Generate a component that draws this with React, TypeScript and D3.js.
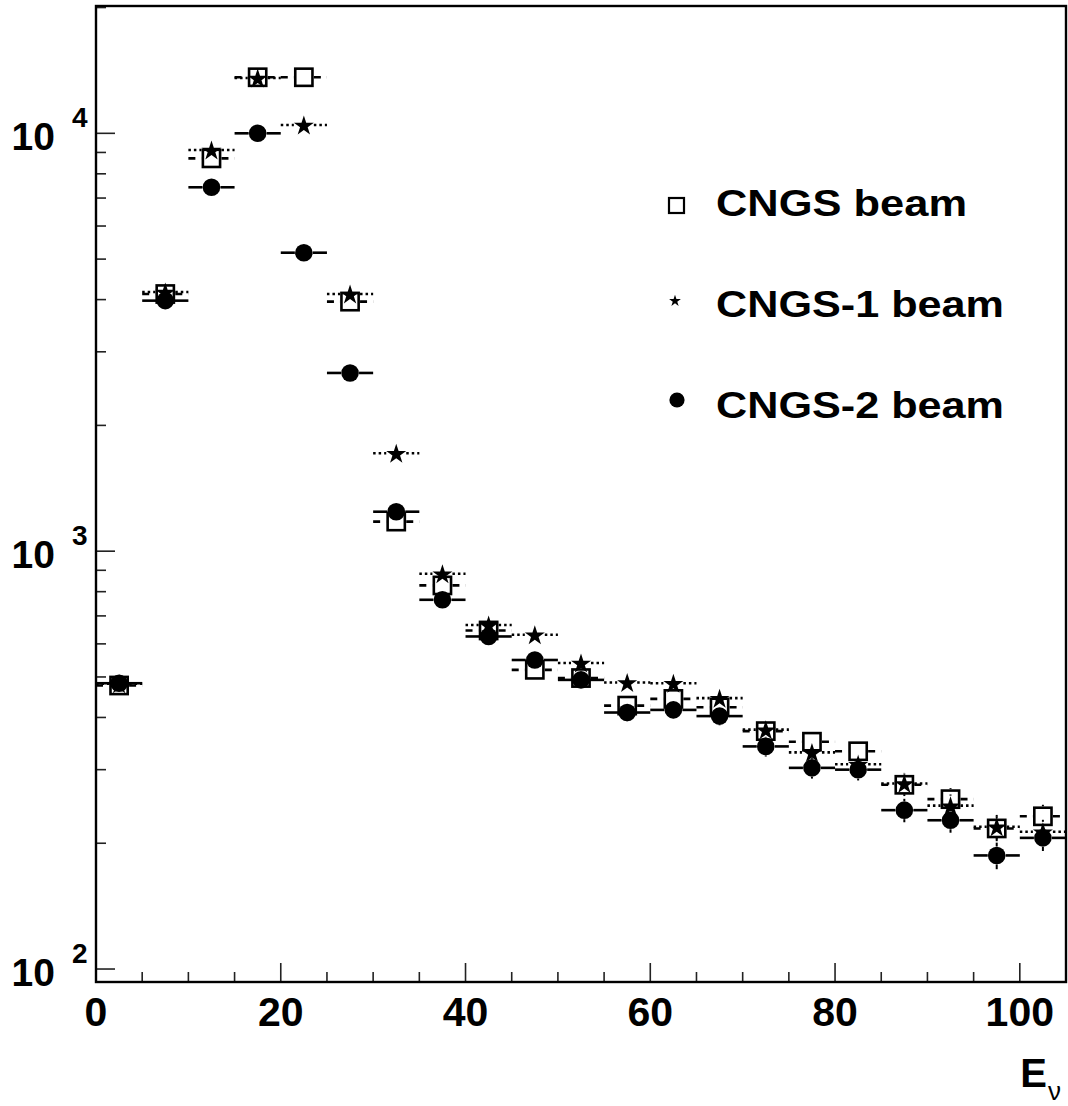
import React from "react";
import * as d3 from "d3";

// Bin edges (GeV): 21 bins of width 5 from 0 to 105
const binLow = [0, 5, 10, 15, 20, 25, 30, 35, 40, 45, 50, 55, 60, 65, 70, 75, 80, 85, 90, 95, 100];
const binWidth = 5;

// Event counts
const cngs = [477, 4125, 8710, 13620, 13620, 3955, 1177, 828, 646, 520, 497, 427, 443, 423, 371, 350, 332, 276, 255, 217, 232];
const cngs1 = [482, 4172, 9120, 13560, 10470, 4125, 1716, 883, 666, 631, 540, 485, 483, 445, 374, 330, 309, 278, 246, 219, 213];
const cngs2 = [483, 3977, 7428, 10000, 5180, 2670, 1243, 765, 625, 549, 492, 411, 417, 403, 341, 303, 300, 240, 227, 187, 206];

const xTickMajor = [0, 20, 40, 60, 80, 100];
const xTickMinor = [5, 10, 15, 25, 30, 35, 45, 50, 55, 65, 70, 75, 85, 90, 95];
const yPowers = [2, 3, 4];
const legendLabels = ["CNGS beam", "CNGS-1 beam", "CNGS-2 beam"];

const W = 1068;
const H = 1106;
const L = 96, R = 1066, T = 6, B = 982;
const FONT = "'Liberation Sans', Arial, Helvetica, sans-serif";

const x = d3.scaleLinear().domain([0, 105]).range([L, R]);
const y = d3.scaleLog().domain([93.1, 20170]).range([B, T]);

type Kind = "square" | "star" | "circle";

const starPath = (r: number) => d3.symbol().type(d3.symbolStar).size((r * r) / 0.8908130915292852)() as string;

function Marker({ kind, cx, cy, s }: { kind: Kind; cx: number; cy: number; s: number }) {
  if (kind === "square") {
    return <rect x={cx - s} y={cy - s} width={2 * s} height={2 * s} fill="none" stroke="#000" strokeWidth={2.6} />;
  }
  if (kind === "star") {
    return <path d={starPath(s)} transform={`translate(${cx},${cy + s * 0.1})`} fill="#000" />;
  }
  return <circle cx={cx} cy={cy} r={s} fill="#000" />;
}

const seriesDefs: { data: number[]; kind: Kind; dash: string | undefined; half: number; size: number; lw: number }[] = [
  { data: cngs, kind: "square", dash: "7,6", half: 10, size: 8.6, lw: 2.6 },
  { data: cngs1, kind: "star", dash: "2.5,3", half: 10, size: 10.5, lw: 2.6 },
  { data: cngs2, kind: "circle", dash: undefined, half: 9, size: 8.8, lw: 2.6 },
];

export default function App() {
  const ySubTicks: number[] = [];
  for (let p = 1; p <= 4; p++) {
    for (let m = 2; m <= 9; m++) {
      const v = m * Math.pow(10, p);
      if (v > 93.1 && v < 20170) ySubTicks.push(v);
    }
  }
  return (
    <svg width={W} height={H} style={{ position: "absolute", left: 0, top: 0, background: "#fff" }} xmlns="http://www.w3.org/2000/svg">
      <rect x={0} y={0} width={W} height={H} fill="#fff" />
      {/* series */}
      {seriesDefs.map((sd, si) => (
        <g key={si}>
          {sd.data.map((v, i) => {
            const lo = binLow[i];
            const hi = lo + binWidth;
            const cx = x(lo + binWidth / 2);
            const cy = y(v);
            const err = Math.sqrt(v);
            const yTop = y(v + err);
            const yBot = y(Math.max(v - err, 1));
            return (
              <g key={i}>
                <line x1={x(lo)} x2={cx - sd.half} y1={cy} y2={cy} stroke="#000" strokeWidth={sd.lw} strokeDasharray={sd.dash} />
                <line x1={cx + sd.half} x2={x(hi)} y1={cy} y2={cy} stroke="#000" strokeWidth={sd.lw} strokeDasharray={sd.dash} />
                {cy - sd.half > yTop && (
                  <line x1={cx} x2={cx} y1={cy - sd.half} y2={yTop} stroke="#000" strokeWidth={2} strokeDasharray={sd.dash} />
                )}
                {yBot > cy + sd.half && (
                  <line x1={cx} x2={cx} y1={cy + sd.half} y2={yBot} stroke="#000" strokeWidth={2} strokeDasharray={sd.dash} />
                )}
              </g>
            );
          })}
        </g>
      ))}
      {seriesDefs.map((sd, si) => (
        <g key={"m" + si}>
          {sd.data.map((v, i) => (
            <Marker key={i} kind={sd.kind} cx={x(binLow[i] + binWidth / 2)} cy={y(v)} s={sd.size} />
          ))}
        </g>
      ))}

      {/* ticks */}
      {xTickMajor.map((t) => (
        <line key={"xM" + t} x1={x(t)} x2={x(t)} y1={B} y2={B - 19} stroke="#222" strokeWidth={1.6} />
      ))}
      {xTickMinor.map((t) => (
        <line key={"xm" + t} x1={x(t)} x2={x(t)} y1={B} y2={B - 10} stroke="#222" strokeWidth={1.6} />
      ))}
      {yPowers.map((p) => (
        <line key={"yM" + p} x1={L} x2={L + 19} y1={y(Math.pow(10, p))} y2={y(Math.pow(10, p))} stroke="#222" strokeWidth={1.6} />
      ))}
      {ySubTicks.map((t) => (
        <line key={"ym" + t} x1={L} x2={L + 10} y1={y(t)} y2={y(t)} stroke="#222" strokeWidth={1.6} />
      ))}

      {/* frame */}
      <rect x={L} y={T} width={R - L} height={B - T} fill="none" stroke="#000" strokeWidth={2.4} />

      {/* x tick labels */}
      {xTickMajor.map((t) => (
        <text key={"xl" + t} x={x(t)} y={1026} textAnchor="middle" fontFamily={FONT} fontWeight="bold" fontSize={41} fill="#000">
          {t}
        </text>
      ))}
      {/* y tick labels */}
      {yPowers.map((p) => {
        const ty = y(Math.pow(10, p));
        return (
          <g key={"yl" + p}>
            <text x={55} y={ty + 16.5} textAnchor="end" fontFamily={FONT} fontWeight="bold" fontSize={39} fill="#000">
              10
            </text>
            <text x={72} y={ty - 6} textAnchor="start" fontFamily={FONT} fontWeight="bold" fontSize={28} fill="#000">
              {p}
            </text>
          </g>
        );
      })}

      {/* axis title */}
      <text x={1047} y={1087} textAnchor="end" fontFamily={FONT} fontWeight="bold" fontSize={40} fill="#000">
        E
      </text>
      <text x={1048} y={1100} textAnchor="start" fontFamily={FONT} fontSize={26} fill="#000">
        ν
      </text>

      {/* legend */}
      <rect x={669} y={198} width={15} height={15} fill="none" stroke="#000" strokeWidth={2.2} />
      <path d={starPath(6.2)} transform={`translate(675,301)`} fill="#000" />
      <circle cx={677} cy={400} r={7.6} fill="#000" />
      {legendLabels.map((lab, i) => (
        <text
          key={lab}
          x={716}
          y={[215.5, 317, 418][i]}
          fontFamily={FONT}
          fontWeight="bold"
          fontSize={36}
          fill="#000"
          textLength={[251, 288, 288][i]}
          lengthAdjust="spacingAndGlyphs"
        >
          {lab}
        </text>
      ))}
    </svg>
  );
}
